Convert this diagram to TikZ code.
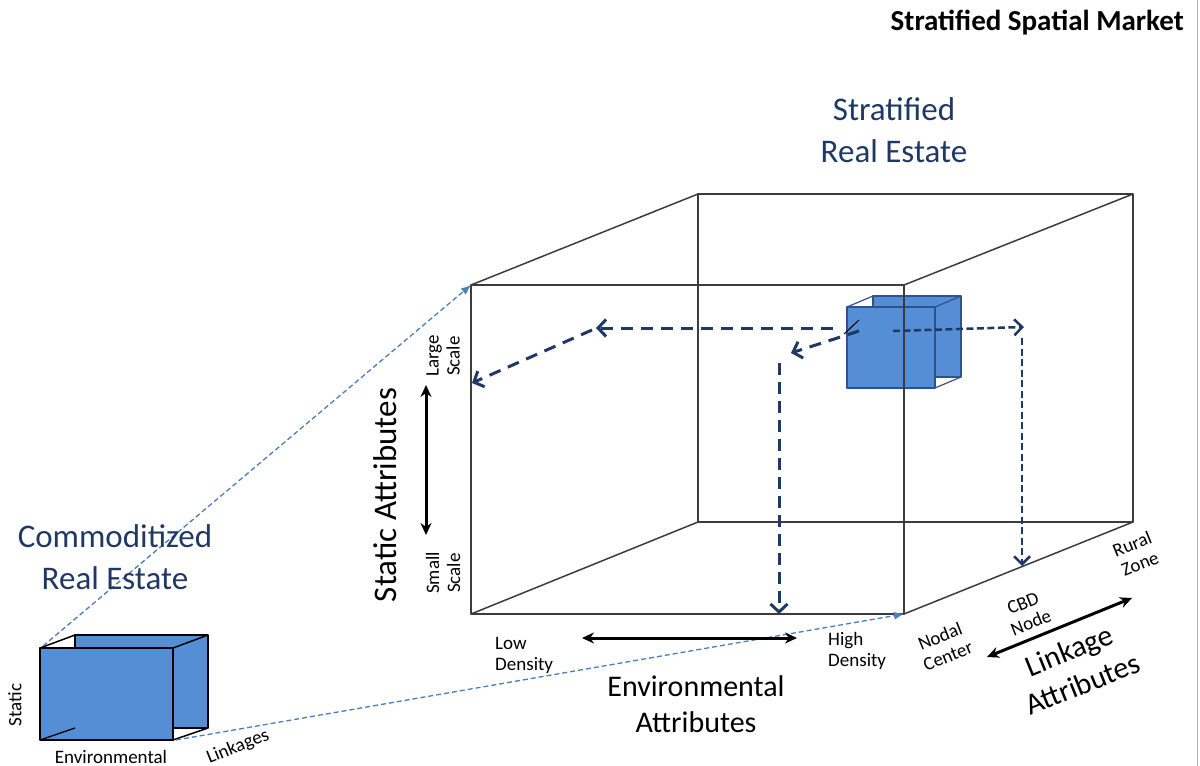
\documentclass[tikz,border=0pt]{standalone}
\usepackage{fontspec}
\setmainfont{Carlito}
\usetikzlibrary{arrows.meta}
\definecolor{cubefill}{RGB}{85,142,213}
\definecolor{cubeline}{RGB}{47,82,143}
\definecolor{navy}{RGB}{31,56,100}
\definecolor{titleblue}{RGB}{31,56,100}
\definecolor{linkblue}{RGB}{74,126,187}
\definecolor{edgegray}{RGB}{60,60,60}
\begin{document}
\begin{tikzpicture}[x=1pt,y=-1pt,
  bigedge/.style={draw=edgegray,line width=1.5pt,line join=round},
  smallface/.style={fill=cubefill,draw=black,line width=1.5pt,line join=round},
  innerface/.style={fill=cubefill,draw=cubeline,line width=1.2pt,line join=round},
  thickdash/.style={draw=navy,line width=3pt,dash pattern=on 12pt off 8pt,-{Straight Barb[length=8pt,width=17pt,line width=3pt]}},
  finedash/.style={draw=navy,line width=2.5pt,dash pattern=on 7pt off 3.5pt,-{Straight Barb[length=8pt,width=16pt,line width=2.5pt]}},
  linkdash/.style={draw=linkblue,line width=1.3pt,dash pattern=on 5pt off 3pt,-{Latex[length=10pt,width=8pt]}},
  dblarrow/.style={draw=black,line width=3pt,{Stealth[length=12pt,width=11pt]}-{Stealth[length=12pt,width=11pt]}},
  bigtxt/.style={align=center,font=\fontsize{33}{42}\selectfont,inner sep=0pt},
  midtxt/.style={align=center,font=\fontsize{30}{36}\selectfont,inner sep=0pt},
  smalltxt/.style={align=left,font=\fontsize{19}{21}\selectfont,inner sep=0pt},
  smallctr/.style={align=center,font=\fontsize{19}{21}\selectfont,inner sep=0pt}]
\useasboundingbox (0,0) rectangle (1200,766);

% right border line
\draw[gray!60,line width=1pt] (1197,0) -- (1197,766);

% ---------- small cube inside big cube ----------
\coordinate (ibtl) at (873,296);
\coordinate (ibtr) at (961,296);
\coordinate (ibbr) at (961,377);
\coordinate (ibbl) at (873,377);
\coordinate (iftl) at (847,307);
\coordinate (iftr) at (935,307);
\coordinate (ifbr) at (935,388);
\coordinate (ifbl) at (847,388);
\path[innerface] (ibtl) -- (ibtr) -- (ibbr) -- (ibbl) -- cycle;
\draw[cubeline,line width=1.2pt] (iftl) -- (ibtl) (iftr) -- (ibtr) (ifbr) -- (ibbr);
\path[innerface] (iftl) -- (iftr) -- (ifbr) -- (ifbl) -- cycle;
\coordinate (ihid1) at (844,334);
\coordinate (ihid2) at (859,320);
\draw[black,line width=1pt] (ihid1) -- (ihid2);

% ---------- big cube ----------
\coordinate (ftl) at (471,285);
\coordinate (ftr) at (904,285);
\coordinate (fbr) at (904,614);
\coordinate (fbl) at (471,614);
\coordinate (btl) at (698,194);
\coordinate (btr) at (1133,194);
\coordinate (bbr) at (1133,522);
\coordinate (bbl) at (698,522);
\draw[bigedge] (btl) -- (btr) -- (bbr) -- (bbl) -- cycle;
\draw[bigedge] (ftl) -- (ftr) -- (fbr) -- (fbl) -- cycle;
\draw[bigedge] (ftl) -- (btl) (ftr) -- (btr) (fbr) -- (bbr) (fbl) -- (bbl);

% ---------- navy dashed arrows ----------
\coordinate (a1s) at (833,328);
\coordinate (a1e) at (596,328);
\coordinate (a2s) at (592,330);
\coordinate (a2e) at (472,383);
\coordinate (a3s) at (859,331);
\coordinate (a3e) at (791,353);
\coordinate (a4s) at (779,363);
\coordinate (a4e) at (779,614);
\coordinate (a5s) at (893,331);
\coordinate (a5e) at (1024,327);
\coordinate (a6s) at (1022,338);
\coordinate (a6e) at (1022,566);
\draw[thickdash] (a1s) -- (a1e);
\draw[thickdash] (a2s) -- (a2e);
\draw[thickdash] (a3s) -- (a3e);
\draw[thickdash,dash pattern=on 12pt off 7pt] (a4s) -- (a4e);
\draw[finedash] (a5s) -- (a5e);
\draw[finedash] (a6s) -- (a6e);

% ---------- small commoditized cube ----------
\coordinate (sbtl) at (75,635);
\coordinate (sbtr) at (208,635);
\coordinate (sbbr) at (208,728);
\coordinate (sbbl) at (75,728);
\coordinate (sftl) at (40,648);
\coordinate (sftr) at (173,648);
\coordinate (sfbr) at (173,740);
\coordinate (sfbl) at (40,740);
\path[smallface] (sbtl) -- (sbtr) -- (sbbr) -- (sbbl) -- cycle;
\draw[black,line width=1.5pt] (sftl) -- (sbtl) (sftr) -- (sbtr) (sfbr) -- (sbbr);
\path[smallface] (sftl) -- (sftr) -- (sfbr) -- (sfbl) -- cycle;
\draw[black,line width=1.3pt] (sfbl) -- (sbbl);

% ---------- light blue projection lines ----------
\coordinate (l1s) at (43,646);
\coordinate (l2s) at (176,740);
\draw[linkdash] (l1s) -- (ftl);
\draw[linkdash] (l2s) -- (fbr);

% ---------- black double arrows ----------
\coordinate (vs) at (426,385);
\coordinate (ve) at (426,535);
\coordinate (hs) at (582,638);
\coordinate (he) at (797,638);
\coordinate (ds) at (987,657);
\coordinate (de) at (1132,598);
\draw[dblarrow] (vs) -- (ve);
\draw[dblarrow] (hs) -- (he);
\draw[dblarrow] (ds) -- (de);

% ---------- texts ----------
\node[font=\bfseries\fontsize{29}{35}\selectfont,anchor=base east,inner sep=0pt] (title) at (1184,30) {Stratified Spatial Market};
\node[bigtxt,text=titleblue] (sre) at (894,130) {Stratified\\Real Estate};
\node[bigtxt,text=titleblue] (cre) at (115,557) {Commoditized\\Real Estate};
\node[midtxt] (env) at (696,704) {Environmental\\Attributes};
\node[font=\fontsize{33}{40}\selectfont,rotate=90,inner sep=0pt] (stat) at (385,495) {Static Attributes};
\node[smallctr,rotate=90] (large) at (443,356) {Large\\Scale};
\node[smallctr,rotate=90] (small) at (443,573) {Small\\Scale};
\node[smalltxt,anchor=west] (low) at (495,655) {Low\\Density};
\node[smalltxt,anchor=west] (high) at (828,651) {High\\Density};
\node[smallctr,rotate=22] (nodal) at (944,646) {Nodal\\Center};
\node[smallctr,rotate=22] (cbd) at (1027,613) {CBD\\Node};
\node[smallctr,rotate=22] (rural) at (1136,554) {Rural\\Zone};
\node[midtxt,rotate=22] (link) at (1076,667) {Linkage\\Attributes};
\node[font=\fontsize{19}{21}\selectfont,rotate=90,inner sep=0pt] (static) at (15,705) {Static};
\node[font=\fontsize{19}{21}\selectfont,inner sep=0pt,anchor=base] (envs) at (111,763) {Environmental};
\node[font=\fontsize{19}{21}\selectfont,rotate=22,inner sep=0pt] (links) at (238,747) {Linkages};
\end{tikzpicture}
\end{document}
